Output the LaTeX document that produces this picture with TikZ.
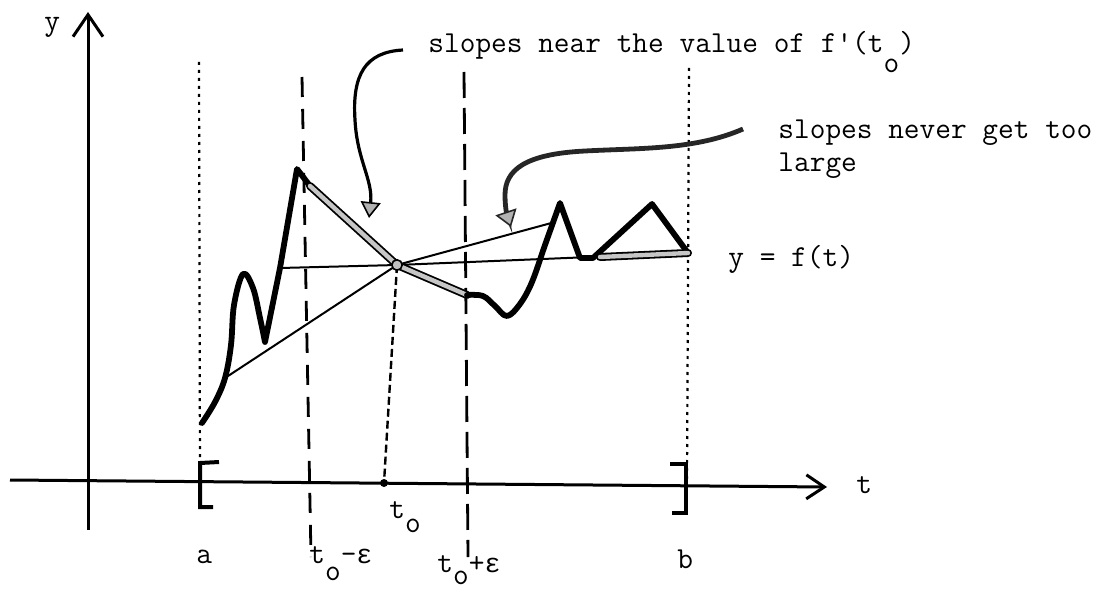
\documentclass[tikz,border=0pt]{standalone}
\usepackage{fontspec}
\newfontfamily\epsfont{Liberation Mono}
\usetikzlibrary{arrows.meta}
\newcommand{\eps}{{\epsfont\fontsize{13.33}{16}\selectfont ε}}
\newcommand{\sq}{\textquotesingle}
\begin{document}
\begin{tikzpicture}[x=0.5pt,y=-0.5pt,
  lbl/.style={anchor=base west, inner sep=0pt, font=\ttfamily\fontsize{15.24}{16}\selectfont},
  axisline/.style={line width=1.5pt},
  curveline/.style={line width=2.9pt, line join=round, line cap=round},
  chord/.style={line width=1pt},
  hl/.style={line width=0.9pt, double=gray!45, double distance=2.2pt, line cap=round},
  bracketline/.style={line width=2pt, line join=miter},
  dashA/.style={line width=1.4pt, dash pattern=on 10pt off 6pt},
  dashB/.style={line width=1.2pt, dash pattern=on 4pt off 2pt},
  dotline/.style={line width=1.1pt, dash pattern=on 1.5pt off 2.5pt},
  annA/.style={line width=1.6pt, -{Triangle[length=8pt,width=10pt,fill=gray!60,line width=0.8pt]}},
  annB/.style={line width=2.4pt, black!85, -{Triangle[length=8pt,width=11pt,fill=gray!60,line width=0.8pt]}}
]
\useasboundingbox (0,0) rectangle (1106,593);

% coordinates
\coordinate (ybot) at (88,530);
\coordinate (ytop) at (88,12);
\coordinate (xl) at (10,480);
\coordinate (xr) at (827,487);
\coordinate (P) at (397,265);
\coordinate (T0) at (384,483);
\coordinate (C1) at (225,378);
\coordinate (C2) at (280,268);
\coordinate (C3) at (555,222);
\coordinate (E) at (688,253);
\coordinate (Pk) at (297,169);
\coordinate (H1) at (310,186);
\coordinate (H2) at (467,295);

% axes
\draw[axisline,-{Straight Barb[length=11pt,width=15pt,line width=1.5pt]}] (ybot) -- (ytop);
\draw[axisline,-{Straight Barb[length=9pt,width=12pt,line width=1.5pt]}] (xl) -- (xr);

% vertical guide lines
\coordinate (aTop) at (199,62);   \coordinate (aBot) at (200,480);
\coordinate (bTop) at (689,68);   \coordinate (bBot) at (687,482);
\coordinate (mTop) at (302,77);   \coordinate (mBot) at (311,557);
\coordinate (pTop) at (464,72);   \coordinate (pBot) at (468,557);
\draw[dotline] (aTop) -- (aBot);
\draw[dotline] (bTop) -- (bBot);
\draw[dashA] (mTop) -- (mBot);
\draw[dashA,dash pattern=on 13pt off 5pt] (pTop) -- (pBot);
\draw[dashB] (P) -- (T0);

% brackets
\draw[bracketline] (219,462) -- (200,463) -- (200,507) -- (213,507);
\draw[bracketline] (670,464) -- (686,464) -- (686,513) -- (672,513);

% chords
\draw[chord] (C1) -- (P);
\draw[chord] (C2) -- (P) -- (E);
\draw[chord] (P) -- (C3);

% the curve
\draw[curveline] plot[smooth, tension=0.6] coordinates {(202,423) (215,402) (225,378) (231,345) (234,305) (243,274) (253,288) (260,318) (265,342)}
  -- (C2) -- (Pk) -- (H1);
\draw[hl] (H1) -- (P) -- (H2);
\draw[curveline] plot[smooth, tension=0.6] coordinates {(H2) (483,296) (495,306) (507,316) (520,304) (532,282) (545,245) (560,203)}
  -- (580,258) -- (593,258) -- (652,204) -- (E);
\draw[hl] (600,257) -- (E);

% dots
\fill (T0) circle (2pt);
\draw[line width=0.8pt, fill=gray!50] (P) circle (2.6pt);

% annotation arrows
\draw[annA] (403,50) .. controls (365,52) and (352,75) .. (355,120) .. controls (357,160) and (373,180) .. (369,218);
\draw[annB] (743,129) .. controls (695,150) and (640,148) .. (585,151) .. controls (525,154) and (505,170) .. (505,195) .. controls (505,210) and (508,218) .. (511,227);

% labels
\node[lbl] (ylab) at (44,31) {y};
\node[lbl] (tlab) at (856,493) {t};
\node[lbl] (alab) at (196,563) {a};
\node[lbl] (blab) at (677,568) {b};
\node[lbl] (t0lab) at (389,518) {t\raisebox{-7pt}{o}};
\node[lbl] (tmlab) at (309,563) {t\raisebox{-8.5pt}{o}-\eps};
\node[lbl] (tplab) at (437,572) {t\raisebox{-6pt}{o}+\eps};
\node[lbl] (note1) at (428,53) {slopes near the value of f\sq(t\raisebox{-10pt}{o})};
\node[lbl] (note2a) at (778,139) {slopes never get too};
\node[lbl] (note2b) at (778,171) {large};
\node[lbl] (flab) at (728,266) {y = f(t)};
\end{tikzpicture}
\end{document}
